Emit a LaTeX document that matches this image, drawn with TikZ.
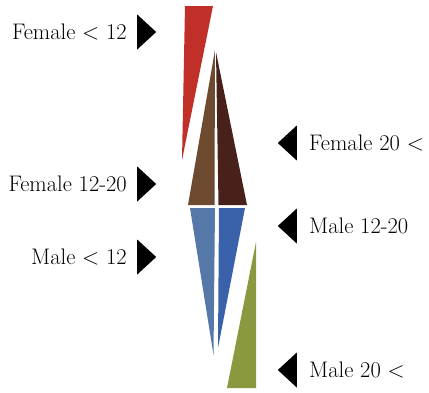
\documentclass[tikz,border=0pt]{standalone}
\usepackage{tikz}
\usetikzlibrary{shapes.geometric}

\definecolor{femred}{RGB}{192,48,40}
\definecolor{fembrown}{RGB}{110,74,48}
\definecolor{femdark}{RGB}{72,34,26}
\definecolor{malelight}{RGB}{86,120,168}
\definecolor{maleblue}{RGB}{58,98,170}
\definecolor{malegreen}{RGB}{138,152,64}

\begin{document}
\begin{tikzpicture}[x=1pt, y=-1pt,
        lbl/.style = {inner sep=0pt, font=\fontsize{22.5}{26}\selectfont},
        ptr/.style = {fill=black, draw=none, isosceles triangle, isosceles triangle stretches,
                      minimum width=35pt, minimum height=19pt, inner sep=0pt}]
            \useasboundingbox (0,0) rectangle (429,392);

            % wedges
            \fill[femred] (185,6) -- (213,6) -- (182,160) -- cycle;
            \fill[fembrown] (215,50) -- (214.5,205) -- (188,205) -- cycle;
            \fill[femdark] (216,52) -- (247,205) -- (218.5,205) -- cycle;
            \fill[malelight] (190,208) -- (215,208) -- (213.5,355) -- cycle;
            \fill[maleblue] (219,208) -- (245,208) -- (218,348) -- cycle;
            \fill[malegreen] (256,242) -- (256,388) -- (227,388) -- cycle;

            % labels on the left
            \node[lbl, anchor=east] (f12) at (127,32) {Female < 12};
            \node[lbl, anchor=east] (f1220) at (127,184) {Female 12-20};
            \node[lbl, anchor=east] (m12) at (127,257) {Male < 12};
            \node[ptr, anchor=west] (pf12) at (137,32) {};
            \node[ptr, anchor=west] (pf1220) at (137,184) {};
            \node[ptr, anchor=west] (pm12) at (137,257) {};

            % labels on the right
            \node[lbl, anchor=west] (f20) at (309,143) {Female 20 <};
            \node[lbl, anchor=west] (m1220) at (309,226) {Male 12-20};
            \node[lbl, anchor=west] (m20) at (309,370) {Male 20 <};
            \node[ptr, shape border rotate=180, anchor=east] (pf20) at (297,143) {};
            \node[ptr, shape border rotate=180, anchor=east] (pm1220) at (297,226) {};
            \node[ptr, shape border rotate=180, anchor=east] (pm20) at (297,370) {};
        \end{tikzpicture}
\end{document}
